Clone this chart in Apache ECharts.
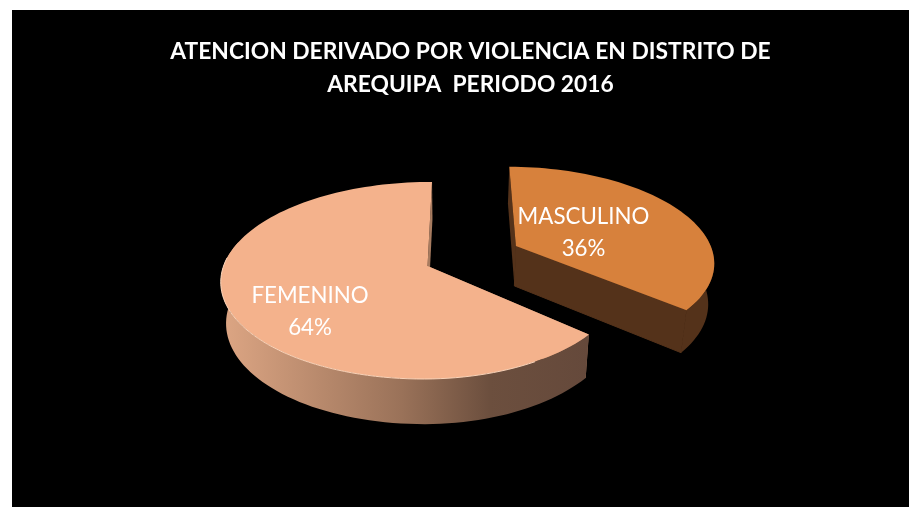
<!DOCTYPE html>
<html>
<head>
<meta charset="utf-8">
<title>Atencion derivado por violencia</title>
<script src="https://cdn.jsdelivr.net/npm/echarts@6/dist/echarts.min.js"></script>
<style>
  html, body { margin: 0; padding: 0; background: #fff; }
  #chart { position: absolute; left: 12px; top: 10px; width: 897px; height: 497px; }
</style>
</head>
<body>
<div id="chart"></div>
<script>
// datos
var titleLines = ['ATENCION DERIVADO POR VIOLENCIA EN DISTRITO DE', 'AREQUIPA  PERIODO 2016'];
var categories = ['MASCULINO', 'FEMENINO'];
var values = [36, 64];

// vista 3D
var startAngle = 0.5;
var view = { vx: 439, cy: 256, R: 204, Q: 96.4, k: 0.147, h: 40.7, t: 0.977 };
var explodeX = [0.328, -0.115];
var explodeY = [-0.214, 0];
var rightScale = [0.985, 0.95];
var wallFrom = 80, wallTo = 285;
var topColors = ['#D7813C', '#F4B28C'];
var cutColors = ['#54321A', '#A87C60'];
var labelPos = [[571.5, 206, 238], [298, 285, 317]];

function project(X, Y, low) {
  var s = 1 / (1 - view.k * Y);
  var x = view.R * X * s;
  var y = view.Q * Y * s;
  if (low) {
    x *= view.t;
    y = y * view.t + view.h * s;
  }
  return [view.vx + x, view.cy + y];
}

function arcPoints(i, a0, a1, low) {
  var pts = [];
  var n = Math.max(2, Math.ceil(Math.abs(a1 - a0) / 2));
  for (var j = 0; j <= n; j++) {
    var a = (a0 + (a1 - a0) * j / n) * Math.PI / 180;
    var sx = Math.sin(a);
    if (sx > 0) sx *= rightScale[i];
    pts.push(project(explodeX[i] + sx, explodeY[i] - Math.cos(a), low));
  }
  return pts;
}

function wallFill(i) {
  if (i === 0) return cutColors[0];
  return new echarts.graphic.LinearGradient(0, 0, 1, 0, [
    { offset: 0, color: '#DDA684' },
    { offset: 0.49, color: '#9A7259' },
    { offset: 0.73, color: '#6C4F3E' },
    { offset: 1, color: '#65493B' }
  ]);
}

function renderSlice(params, api) {
  var i = params.dataIndex;
  var total = values.reduce(function (a, b) { return a + b; }, 0);
  var before = values.slice(0, i).reduce(function (a, b) { return a + b; }, 0);
  var a0 = startAngle + before / total * 360;
  var a1 = a0 + api.value(0) / total * 360;
  var apex = project(explodeX[i], explodeY[i], false);
  var apexLow = project(explodeX[i], explodeY[i], true);
  var top = arcPoints(i, a0, a1, false);
  var children = [];

  // caras de corte
  children.push({ type: 'polygon', shape: { points: [apex, top[0], arcPoints(i, a0, a0, true)[0], apexLow] },
    style: { fill: cutColors[i] } });
  children.push({ type: 'polygon', shape: { points: [apex, top[top.length - 1], arcPoints(i, a1, a1, true)[0], apexLow] },
    style: { fill: cutColors[i], stroke: cutColors[i], lineWidth: i === 0 ? 1 : 0 } });

  // pared exterior
  var w0 = Math.max(a0, wallFrom), w1 = Math.min(a1, wallTo);
  var wallPts = arcPoints(i, w0, w1, false).concat(arcPoints(i, w0, w1, true).reverse());
  children.push({ type: 'polygon', shape: { points: wallPts }, style: { fill: wallFill(i) } });

  // cara superior
  children.push({ type: 'polygon', shape: { points: [apex].concat(top) }, style: { fill: topColors[i] } });
  if (i === 1) {
    children.push({ type: 'polyline', shape: { points: arcPoints(i, 150, 275, false) },
      style: { fill: 'none', stroke: '#FAD3B8', lineWidth: 1 } });
  }

  // etiquetas
  var pct = Math.round(api.value(0) / total * 100) + '%';
  [categories[i], pct].forEach(function (txt, n) {
    children.push({ type: 'text', style: {
      text: txt, x: labelPos[i][0], y: labelPos[i][n + 1] + 1, fill: '#fff',
      font: '22.3px Lato, "Noto Sans", sans-serif', textAlign: 'center', textVerticalAlign: 'middle'
    } });
  });
  return { type: 'group', children: children };
}

var chart = echarts.init(document.getElementById('chart'));
chart.setOption({
  backgroundColor: '#000',
  animation: false,
  title: {
    text: titleLines.join('\n'),
    left: 453.5,
    top: 20,
    textAlign: 'center',
    textStyle: { color: '#fff', fontFamily: 'Lato', fontWeight: 'bold', fontSize: 22.8, lineHeight: 33 }
  },
  series: [{
    type: 'custom',
    coordinateSystem: 'none',
    silent: true,
    renderItem: renderSlice,
    data: values.map(function (v) { return [v]; })
  }]
});
window.addEventListener('resize', function () { chart.resize(); });
</script>
</body>
</html>
